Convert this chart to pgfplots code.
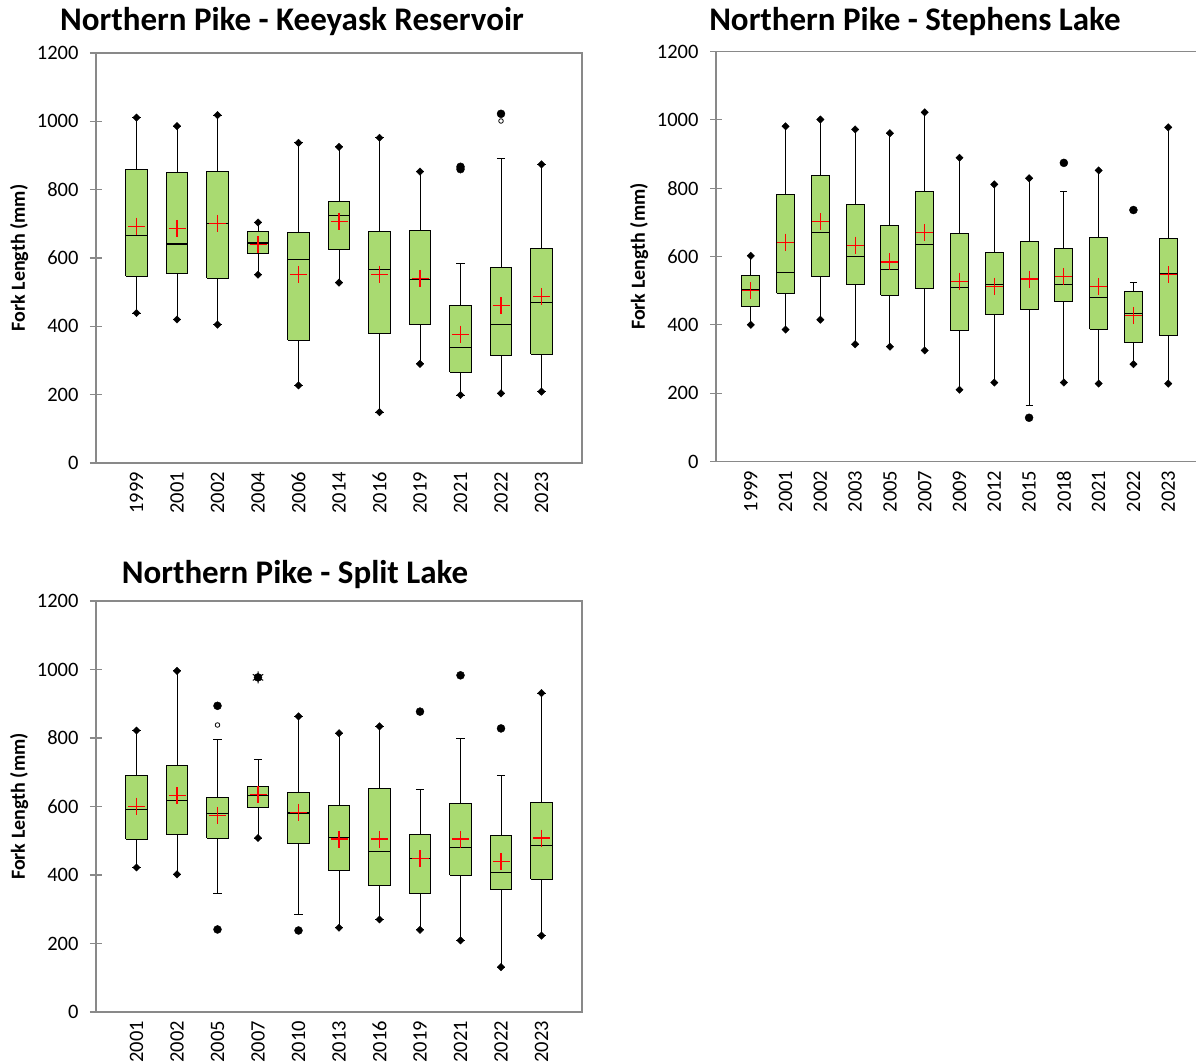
\documentclass[border=0pt]{standalone}
\usepackage{fontspec}
\setmainfont{Carlito}
\usepackage{pgfplots}
\pgfplotsset{compat=1.18}
\usepackage{pgfplotstable}

\definecolor{boxgreen}{RGB}{169,218,113}
\definecolor{framegray}{RGB}{137,137,137}

% means
\pgfplotstableread{
x  mean
1  693
2  687
3  701
4  639
5  552
6  708
7  553
8  540
9  377
10 460
11 486
}\tA
\pgfplotstableread{
x  mean
1  500
2  642
3  702
4  633
5  584
6  670
7  528
8  513
9  534
10 542
11 512
12 428
13 546
}\tB
\pgfplotstableread{
x  mean
1  601
2  632
3  574
4  634
5  583
6  505
7  505
8  448
9  505
10 439
11 508
}\tC

\pgfplotsset{
  whst/.style={black, line width=1pt, mark=none, forget plot},
  boxst/.style={draw=black, fill=boxgreen, line width=1pt, line join=miter, mark=none},
  medst/.style={black, line width=1.3pt, mark=none},
  meanst/.style={only marks, mark=+, mark size=8.5pt, red, mark options={line width=1.1pt}},
  diast/.style={only marks, mark=square*, mark size=2.6pt, black, mark options={rotate=45}},
  outst/.style={only marks, mark=*, mark size=4pt, black},
  opst/.style={only marks, mark=o, mark size=2.3pt, black, mark options={line width=0.8pt}},
}

% box: position, lower whisker, lower quartile, median, upper quartile, upper whisker
\newcommand{\bx}[6]{%
  \pgfmathsetmacro\bxl{#1-0.26}\pgfmathsetmacro\bxr{#1+0.26}%
  \pgfmathsetmacro\bcl{#1-0.1}\pgfmathsetmacro\bcr{#1+0.1}%
  \addplot[whst] coordinates {(#1,#2) (#1,#3)};
  \addplot[whst] coordinates {(#1,#5) (#1,#6)};
  \addplot[whst] coordinates {(\bcl,#2) (\bcr,#2)};
  \addplot[whst] coordinates {(\bcl,#6) (\bcr,#6)};
  \addplot[boxst] coordinates {(\bxl,#3) (\bxr,#3) (\bxr,#5) (\bxl,#5) (\bxl,#3)};
  \addplot[medst] coordinates {(\bxl,#4) (\bxr,#4)};
}

\pgfplotsset{
  panel/.style={
    scale only axis, width=486pt, height=410pt,
    ymin=0, ymax=1200, ytick={0,200,...,1200},
    xmin=0,
    axis line style={framegray, line width=1.5pt},
    axis on top,
    ytick pos=left,
    tick align=center, major tick length=12pt,
    ytick style={framegray, line width=1.2pt},
    xtick style={draw=none},
    /pgf/number format/assume math mode=true,
    /pgf/number format/1000 sep={},
    tick label style={font=\fontsize{20.5}{24}\selectfont},
    yticklabel style={xshift=-8pt},
    xticklabel style={rotate=90, anchor=east, inner sep=3pt},
    ylabel={Fork Length (mm)},
    ylabel style={font=\bfseries\fontsize{20}{23}\selectfont, at={(axis description cs:-0.158,0.5)}, anchor=center},
  },
}

\begin{document}
\begin{tikzpicture}
\path[use as bounding box] (0pt,0pt) rectangle (1196pt,1061pt);

\node[font=\bfseries\fontsize{33}{38}\selectfont] at (292pt,1039pt) {Northern Pike - Keeyask Reservoir};
\node[font=\bfseries\fontsize{33}{38}\selectfont] at (915pt,1039pt) {Northern Pike - Stephens Lake};
\node[font=\bfseries\fontsize{33}{38}\selectfont] at (295pt,486pt) {Northern Pike - Split Lake};

% Panel 1
\begin{axis}[panel, at={(96pt,598pt)}, anchor=south west, xmax=12,
  xtick={1,...,11}, xticklabels={1999,2001,2002,2004,2006,2014,2016,2019,2021,2022,2023}]
\bx{1}{439}{546}{666}{859}{1011}
\bx{2}{420}{555}{641}{849}{986}
\bx{3}{405}{541}{701}{852}{1018}
\bx{4}{551}{612}{644}{677}{704}
\bx{5}{227}{359}{595}{675}{937}
\bx{6}{528}{626}{725}{765}{925}
\bx{7}{149}{379}{566}{678}{952}
\bx{8}{290}{405}{538}{681}{853}
\bx{9}{199}{265}{339}{460}{583}
\bx{10}{204}{314}{405}{572}{891}
\bx{11}{209}{319}{470}{629}{874}
\addplot[meanst] table[x=x, y=mean] \tA;
\addplot[diast] coordinates {(1,439) (2,420) (3,405) (4,551) (5,227) (6,528) (7,149) (8,290) (9,199) (10,204) (11,209)
  (1,1011) (2,986) (3,1018) (4,704) (5,937) (6,925) (7,952) (8,853) (11,874)};
\addplot[outst] coordinates {(9,860) (9,867) (10,1022)};
\addplot[opst] coordinates {(10,1001)};
\end{axis}

% Panel 2
\begin{axis}[panel, width=487pt, at={(716pt,599.5pt)}, anchor=south west, xmax=14,
  xtick={1,...,13}, xticklabels={1999,2001,2002,2003,2005,2007,2009,2012,2015,2018,2021,2022,2023}]
\bx{1}{400}{453}{502}{544}{602}
\bx{2}{386}{492}{553}{780}{981}
\bx{3}{415}{542}{670}{838}{1001}
\bx{4}{343}{518}{599}{752}{972}
\bx{5}{336}{486}{562}{691}{961}
\bx{6}{325}{505}{636}{791}{1022}
\bx{7}{210}{384}{509}{668}{889}
\bx{8}{231}{430}{518}{611}{811}
\bx{9}{165}{444}{532}{644}{829}
\bx{10}{231}{467}{518}{624}{791}
\bx{11}{228}{387}{481}{655}{852}
\bx{12}{285}{347}{434}{499}{524}
\bx{13}{228}{370}{549}{653}{978}
\addplot[meanst] table[x=x, y=mean] \tB;
\addplot[diast] coordinates {(1,400) (2,386) (3,415) (4,343) (5,336) (6,325) (7,210) (8,231) (10,231) (11,228) (12,285) (13,228)
  (1,602) (2,981) (3,1001) (4,972) (5,961) (6,1022) (7,889) (8,811) (9,829) (11,852) (13,978)};
\addplot[outst] coordinates {(9,128) (10,874) (12,736)};
\end{axis}

% Panel 3
\begin{axis}[panel, height=411pt, at={(96pt,49pt)}, anchor=south west, xmax=12,
  xtick={1,...,11}, xticklabels={2001,2002,2005,2007,2010,2013,2016,2019,2021,2022,2023}]
\bx{1}{422}{504}{592}{690}{822}
\bx{2}{402}{518}{618}{719}{996}
\bx{3}{345}{507}{580}{626}{795}
\bx{4}{508}{598}{632}{658}{736}
\bx{5}{285}{491}{581}{640}{863}
\bx{6}{246}{414}{509}{602}{814}
\bx{7}{270}{368}{468}{652}{834}
\bx{8}{240}{345}{448}{517}{649}
\bx{9}{209}{399}{481}{609}{799}
\bx{10}{131}{359}{408}{514}{690}
\bx{11}{223}{388}{486}{612}{931}
\addplot[meanst] table[x=x, y=mean] \tC;
\addplot[diast] coordinates {(1,422) (2,402) (4,508) (6,246) (7,270) (8,240) (9,209) (10,131) (11,223)
  (1,822) (2,996) (5,863) (6,814) (7,834) (11,931)};
\addplot[outst] coordinates {(3,894) (3,241) (4,977) (5,238) (8,877) (9,983) (10,828)};
\addplot[opst] coordinates {(3,838)};
\addplot[only marks, mark=asterisk, mark size=6pt, black, mark options={line width=1pt}] coordinates {(4,977)};
\end{axis}
\end{tikzpicture}
\end{document}
